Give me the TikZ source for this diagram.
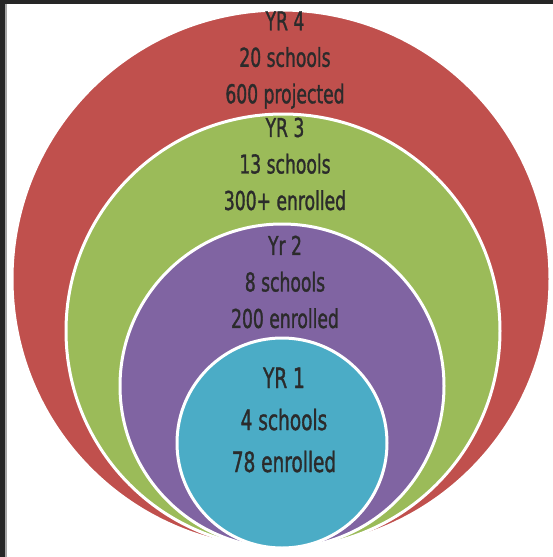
\documentclass[tikz,border=0pt]{standalone}
\usepackage{fontspec}
\newfontfamily\hand[FakeStretch=0.66,FakeBold=1.2]{DejaVu Sans}
\definecolor{ringred}{HTML}{C0504D}
\definecolor{ringgreen}{HTML}{9BBB59}
\definecolor{ringpurple}{HTML}{8064A2}
\definecolor{ringcyan}{HTML}{4BACC6}
\definecolor{inkc}{HTML}{2B2B2B}
\definecolor{edgedark}{HTML}{262626}
\tikzset{
  ring/.style={circle, inner sep=0pt, outer sep=0pt, draw=white, line width=3pt},
  lbl/.style={align=center, text=inkc, inner sep=0pt,
    font=\hand\fontsize{26}{36.5}\selectfont},
  lblbig/.style={align=center, text=inkc, inner sep=0pt,
    font=\hand\fontsize{28}{42}\selectfont}
}
\begin{document}
\begin{tikzpicture}[x=1pt,y=-1pt]
\useasboundingbox (0,0) rectangle (553,557);
\fill[white] (0,0) rectangle (553,557);
\node[ring, fill=ringred, minimum size=538pt] (r4) at (281,279) {};
\node[ring, fill=ringgreen, minimum size=434pt] (r3) at (283,331) {};
\node[ring, fill=ringpurple, minimum size=324pt] (r2) at (282,386) {};
\node[ring, fill=ringcyan, minimum size=210pt] (r1) at (282,443) {};
\node[lbl] (t4) at (285,60) {YR 4\\20 schools\\600 projected};
\node[lbl] (t3) at (285,164) {YR 3\\13 schools\\300+ enrolled};
\node[lbl] (t2) at (285,282) {Yr 2\\8 schools\\200 enrolled};
\node[lblbig] (t1) at (284,420) {YR 1\\4 schools\\78 enrolled};
\fill[edgedark] (0,0) rectangle (553,4);
\fill[edgedark] (0,0) rectangle (5,557);
\fill[gray!70] (5,4) rectangle (7,557);
\end{tikzpicture}
\end{document}
